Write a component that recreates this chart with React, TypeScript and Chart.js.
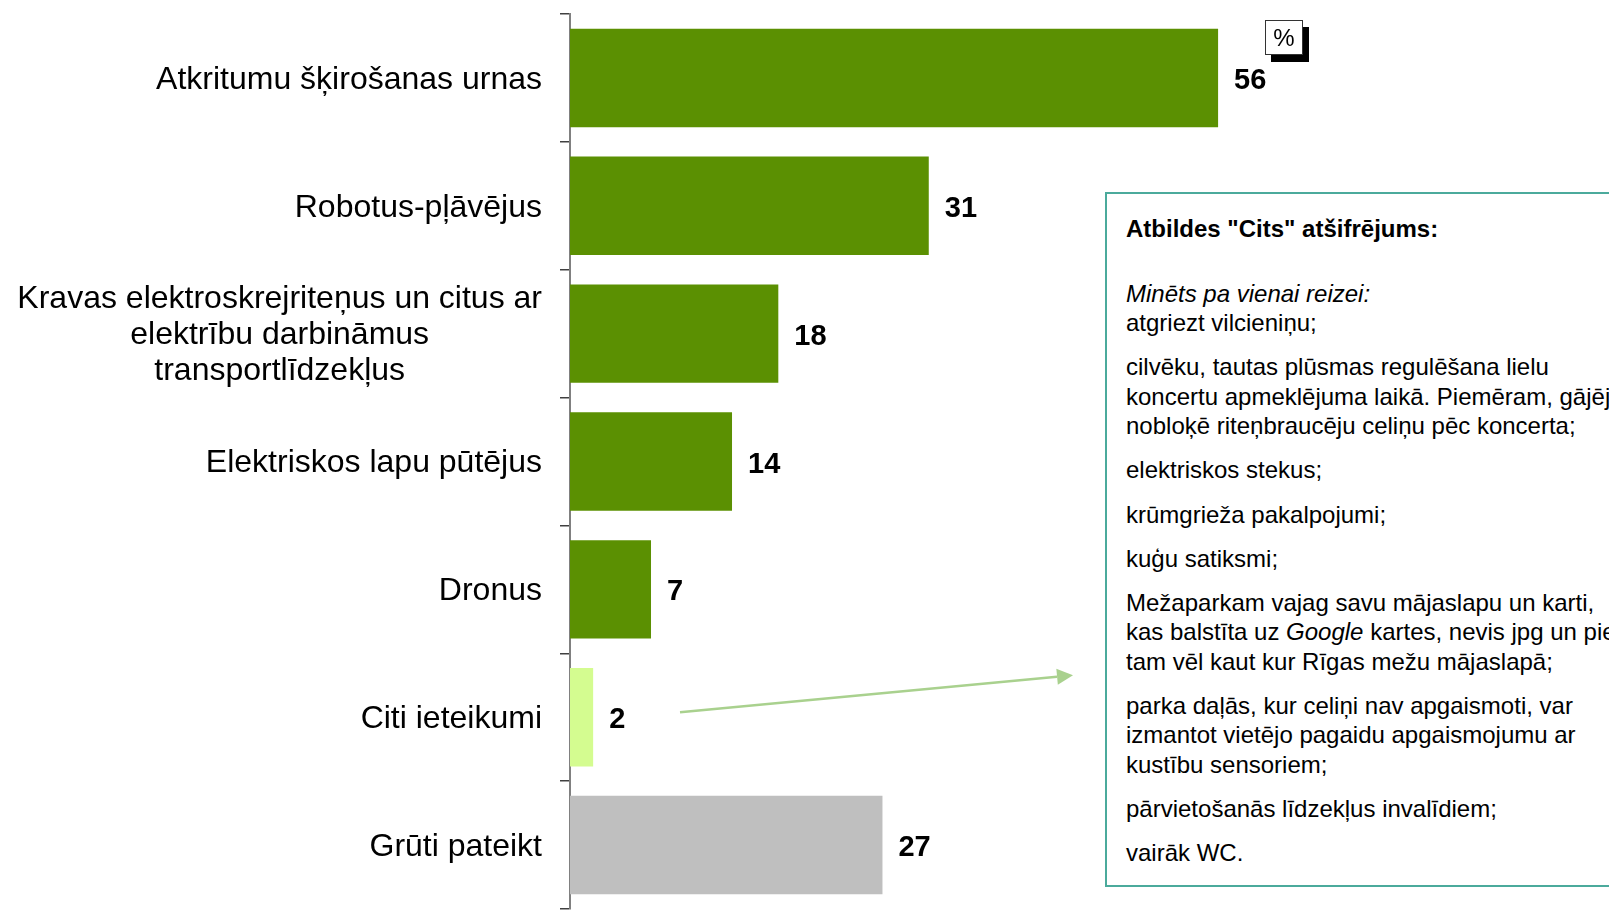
import React, { useEffect, useRef } from "react";
import { Chart, registerables } from "chart.js";

Chart.register(...registerables);

const FONT = "'Liberation Sans', Arial, sans-serif";

const categories: (string | string[])[] = [
  "Atkritumu šķirošanas urnas",
  "Robotus-pļāvējus",
  ["Kravas elektroskrejriteņus un citus ar", "elektrību darbināmus", "transportlīdzekļus"],
  "Elektriskos lapu pūtējus",
  "Dronus",
  "Citi ieteikumi",
  "Grūti pateikt",
];
const values = [56, 31, 18, 14, 7, 2, 27];
const barColors = ["#5B9002", "#5B9002", "#5B9002", "#5B9002", "#5B9002", "#D4FC90", "#BFBFBF"];
const xMax = 89;
const unitLabel = "%";

const boxTitle = 'Atbildes "Cits" atšifrējums:';
const boxSubtitle = "Minēts pa vienai reizei:";
const boxParagraphs: string[][] = [
  ["atgriezt vilcieniņu;"],
  [
    "cilvēku, tautas plūsmas regulēšana lielu",
    "koncertu apmeklējuma laikā. Piemēram, gājēji",
    "nobloķē riteņbraucēju celiņu pēc koncerta;",
  ],
  ["elektriskos stekus;"],
  ["krūmgrieža pakalpojumi;"],
  ["kuģu satiksmi;"],
  [
    "Mežaparkam vajag savu mājaslapu un karti,",
    "kas balstīta uz *Google* kartes, nevis jpg un pie",
    "tam vēl kaut kur Rīgas mežu mājaslapā;",
  ],
  [
    "parka daļās, kur celiņi nav apgaismoti, var",
    "izmantot vietējo pagaidu apgaismojumu ar",
    "kustību sensoriem;",
  ],
  ["pārvietošanās līdzekļus invalīdiem;"],
  ["vairāk WC."],
];

function renderLine(line: string, key: number) {
  const parts = line.split("*");
  return (
    <div key={key}>
      {parts.map((p, i) => (i % 2 === 1 ? <i key={i}>{p}</i> : <span key={i}>{p}</span>))}
    </div>
  );
}

export default function App() {
  const ref = useRef<HTMLCanvasElement>(null);

  useEffect(() => {
    const canvas = ref.current;
    if (!canvas) return;

    const overlay = {
      id: "overlay",
      afterDatasetsDraw(chart: any) {
        const ctx = chart.ctx as CanvasRenderingContext2D;
        const yScale = chart.scales.y;
        const meta = chart.getDatasetMeta(0);
        ctx.save();
        // category labels
        ctx.fillStyle = "#000";
        ctx.font = `32px ${FONT}`;
        ctx.textBaseline = "middle";
        ctx.textAlign = "center";
        const right = chart.chartArea.left - 28;
        categories.forEach((c, i) => {
          const lines = Array.isArray(c) ? c : [c];
          const widest = Math.max(...lines.map((l) => ctx.measureText(l).width));
          const cx = right - widest / 2;
          const y = yScale.getPixelForTick(i) + 2;
          const lh = 36;
          lines.forEach((l, j) => ctx.fillText(l, cx, y + (j - (lines.length - 1) / 2) * lh));
        });
        // value labels
        ctx.font = `bold 29px ${FONT}`;
        ctx.textAlign = "left";
        meta.data.forEach((bar: any, i: number) => {
          ctx.fillText(String(values[i]), bar.x + 16, bar.y + 3);
        });
        // arrow from "Citi ieteikumi" to the box
        const y0 = yScale.getPixelForTick(5) - 5;
        const x0 = 680;
        const x1 = 1073;
        const y1 = y0 - 37;
        ctx.strokeStyle = "#A9D18E";
        ctx.fillStyle = "#A9D18E";
        ctx.lineWidth = 2.5;
        const ang = Math.atan2(y1 - y0, x1 - x0);
        const len = 16;
        const hw = 8;
        const bx = x1 - len * Math.cos(ang);
        const by = y1 - len * Math.sin(ang);
        ctx.beginPath();
        ctx.moveTo(x0, y0);
        ctx.lineTo(bx, by);
        ctx.stroke();
        ctx.beginPath();
        ctx.moveTo(x1, y1);
        ctx.lineTo(bx + hw * Math.sin(ang), by - hw * Math.cos(ang));
        ctx.lineTo(bx - hw * Math.sin(ang), by + hw * Math.cos(ang));
        ctx.closePath();
        ctx.fill();
        ctx.restore();
      },
    };

    const chart = new Chart(canvas, {
      type: "bar",
      data: {
        labels: categories as any,
        datasets: [
          {
            data: values,
            backgroundColor: barColors,
            borderWidth: 0,
            barPercentage: 0.77,
            categoryPercentage: 1,
          },
        ],
      },
      options: {
        indexAxis: "y",
        responsive: false,
        animation: false,
        maintainAspectRatio: false,
        layout: { padding: { left: 560, right: 9, top: 14, bottom: 2 } },
        plugins: { legend: { display: false }, tooltip: { enabled: false } },
        scales: {
          x: { display: false, min: 0, max: xMax },
          y: {
            ticks: { display: false },
            grid: {
              drawOnChartArea: false,
              drawTicks: true,
              tickLength: 10,
              color: "#404040",
              lineWidth: 1.5,
              offset: true,
            },
            border: { display: true, color: "#808080", width: 2 },
          },
        },
      },
      plugins: [overlay],
    });
    return () => chart.destroy();
  }, []);

  return (
    <div
      style={{
        position: "fixed",
        left: 0,
        top: 0,
        width: 1609,
        height: 911,
        overflow: "hidden",
        background: "#fff",
        fontFamily: FONT,
      }}
    >
      <canvas ref={ref} width={1609} height={911} style={{ position: "absolute", left: 0, top: 0 }} />
      <div
        style={{
          position: "absolute",
          left: 1265,
          top: 20,
          width: 38,
          height: 35,
          boxSizing: "border-box",
          border: "1px solid #333",
          background: "#fff",
          boxShadow: "6px 7px 0 #000",
          fontSize: 24,
          lineHeight: "33px",
          textAlign: "center",
          color: "#000",
        }}
      >
        {unitLabel}
      </div>
      <div
        style={{
          position: "absolute",
          left: 1105,
          top: 192,
          width: 620,
          height: 695,
          boxSizing: "border-box",
          border: "2px solid #4BAA9C",
          background: "#fff",
          paddingTop: 19.5,
          paddingLeft: 19,
          fontSize: 24,
          lineHeight: "29.3px",
          color: "#000",
          whiteSpace: "nowrap",
        }}
      >
        <div style={{ fontWeight: "bold", marginBottom: 36 }}>{boxTitle}</div>
        <div>
          <div style={{ fontStyle: "italic" }}>{boxSubtitle}</div>
          {boxParagraphs[0].map((l, i) => renderLine(l, i))}
        </div>
        {boxParagraphs.slice(1).map((p, pi) => (
          <div key={pi} style={{ marginTop: 15 }}>
            {p.map((l, i) => renderLine(l, i))}
          </div>
        ))}
      </div>
    </div>
  );
}
